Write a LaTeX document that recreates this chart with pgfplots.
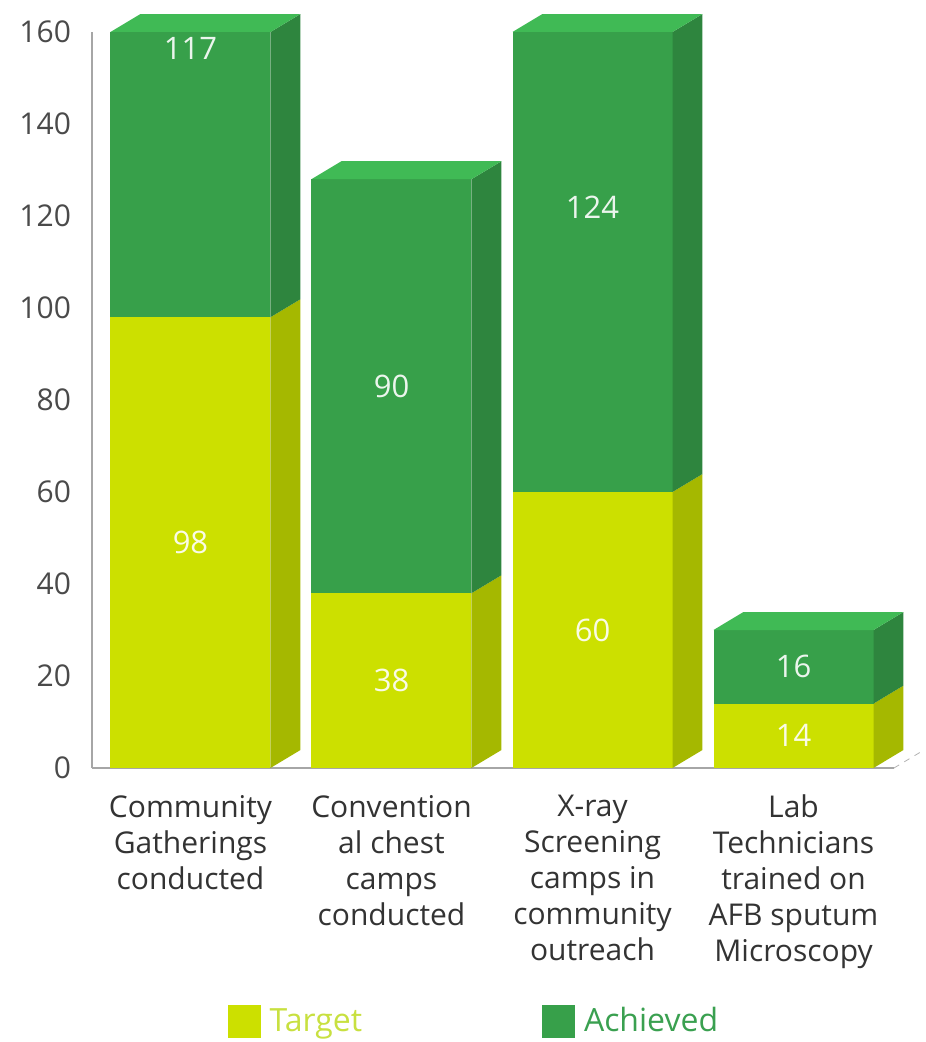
\documentclass[border=0pt]{standalone}
\usepackage{pgfplots}
\pgfplotsset{compat=1.18}
\usepackage{fontspec}
\setmainfont{Open Sans}

\definecolor{tgtFront}{HTML}{CCE000}
\definecolor{tgtSide}{HTML}{A5B800}
\definecolor{achFront}{HTML}{37A04A}
\definecolor{achSide}{HTML}{2E853E}
\definecolor{achTop}{HTML}{40BA55}
\definecolor{tgtText}{HTML}{C8E040}
\definecolor{achText}{HTML}{3AA050}
\definecolor{tickText}{HTML}{4A4A4A}
\definecolor{catText}{HTML}{333333}

% geometry of the 3D boxes (axis units)
\def\hw{0.398}   % half the front width
\def\dx{0.149}   % depth, horizontal
\def\dy{3.91}    % depth, vertical
\def\ycap{160}   % boxes are cut at the top of the axis

% one stacked 3D box: #1 = position, #2 = target, #3 = achieved
\newcommand\stackbox[3]{%
  \pgfmathsetmacro\xl{#1-\hw}%
  \pgfmathsetmacro\xr{#1+\hw}%
  \pgfmathsetmacro\xlb{#1-\hw+\dx}%
  \pgfmathsetmacro\xrb{#1+\hw+\dx}%
  \pgfmathsetmacro\ya{min(#2,\ycap)}%
  \pgfmathsetmacro\yb{min(#2+#3,\ycap)}%
  \pgfmathsetmacro\yab{\ya+\dy}%
  \pgfmathsetmacro\ybb{\yb+\dy}%
  \addplot[fill=tgtFront,draw=none,forget plot] coordinates {(\xl,0) (\xr,0) (\xr,\ya) (\xl,\ya)} -- cycle;
  \addplot[fill=tgtSide,draw=none,forget plot] coordinates {(\xr,0) (\xrb,\dy) (\xrb,\yab) (\xr,\ya)} -- cycle;
  \addplot[fill=achFront,draw=none,forget plot] coordinates {(\xl,\ya) (\xr,\ya) (\xr,\yb) (\xl,\yb)} -- cycle;
  \addplot[fill=achSide,draw=none,forget plot] coordinates {(\xr,\ya) (\xrb,\yab) (\xrb,\ybb) (\xr,\yb)} -- cycle;
  \addplot[fill=achTop,draw=none,forget plot] coordinates {(\xl,\yb) (\xr,\yb) (\xrb,\ybb) (\xlb,\ybb)} -- cycle;
}

\begin{document}
\begin{tikzpicture}
\useasboundingbox (-46pt,-137pt) rectangle (416.5pt,384pt);
\begin{axis}[
  scale only axis,
  width=401pt, height=368pt,
  xmin=-0.49, xmax=3.5,
  ymin=0, ymax=160,
  clip=false,
  axis x line*=bottom, axis y line*=left,
  axis line style={draw=black!35, line width=0.8pt},
  major tick length=0pt,
  ytick={0,20,...,160},
  xtick={0,1,2,3},
  xticklabels={{Community\\Gatherings\\conducted},
               {Convention\\al chest\\camps\\conducted},
               {X-ray\\Screening\\camps in\\community\\outreach},
               {Lab\\Technicians\\trained on\\AFB sputum\\Microscopy}},
  /pgf/number format/assume math mode=true,
  yticklabel style={font=\fontsize{15}{17}\selectfont, text=tickText, xshift=-7pt},
  xticklabel style={font=\fontsize{15}{18}\selectfont, text=catText, align=center, yshift=-10pt},
  legend style={at={(axis description cs:0.4776,-0.344)}, anchor=center,
    draw=none, fill=none, legend columns=2,
    font=\fontsize{16}{18}\selectfont,
    /tikz/every even column/.append style={column sep=88pt}},
  legend image code/.code={\fill[#1] (0pt,-8pt) rectangle (16pt,8pt);},
]
\stackbox{0}{98}{117}
\stackbox{1}{38}{90}
\stackbox{2}{60}{124}
\stackbox{3}{14}{16}

% floor edge behind the last box
\addplot[black!30, dashed, forget plot] coordinates {(3.5,0) (3.649,3.91)};

% segment values, centred on each full (uncut) segment
\addplot[only marks, mark=none, forget plot,
  nodes near coords, point meta=explicit,
  nodes near coords align=center,
  every node near coord/.append style={font=\fontsize{15.5}{17}\selectfont, text=white, text opacity=0.9}]
  coordinates {(0,49)[98] (0,156.5)[117] (1,19)[38] (1,83)[90]
               (2,30)[60] (2,122)[124] (3,7)[14] (3,22)[16]};

\addlegendimage{tgtFront}
\addlegendentry{\hspace{2.5pt}\textcolor{tgtText}{Target}}
\addlegendimage{achFront}
\addlegendentry{\hspace{2.5pt}\textcolor{achText}{Achieved}}
\end{axis}
\end{tikzpicture}
\end{document}
